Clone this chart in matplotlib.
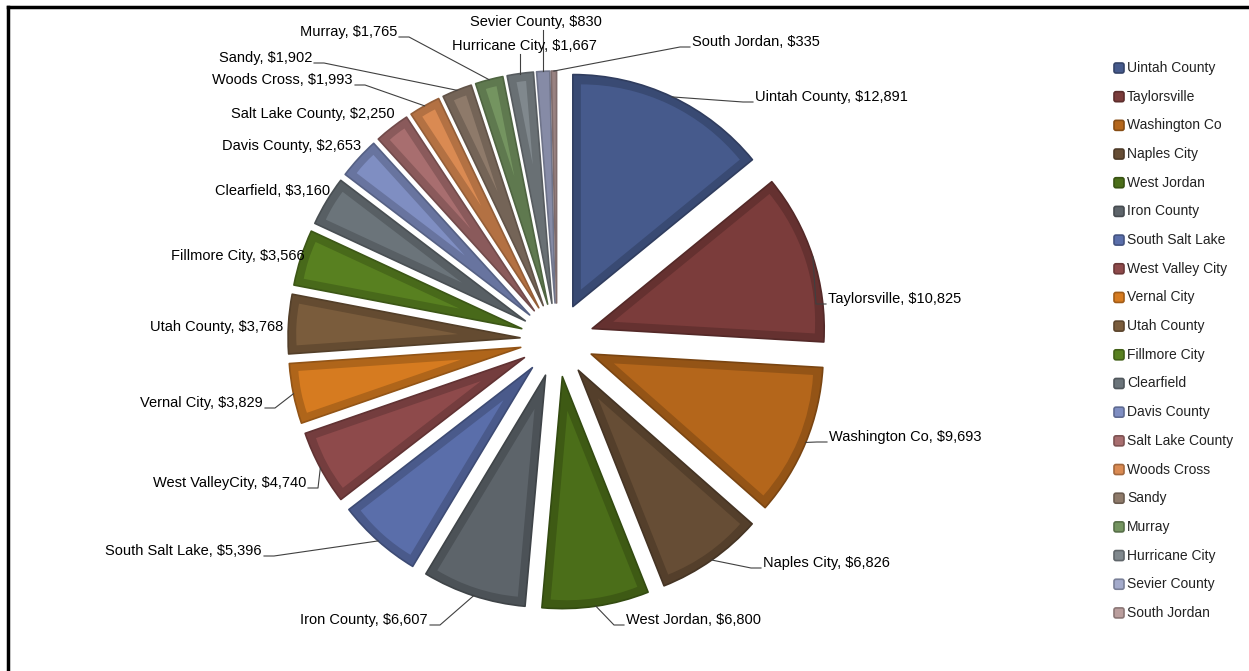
import matplotlib
matplotlib.use("Agg")
import matplotlib.pyplot as plt
from matplotlib.lines import Line2D
from matplotlib.patches import FancyBboxPatch, Wedge
import matplotlib.colors as mcolors
import numpy as np

# data
names = ['Uintah County', 'Taylorsville', 'Washington Co', 'Naples City', 'West Jordan',
         'Iron County', 'South Salt Lake', 'West Valley City', 'Vernal City', 'Utah County',
         'Fillmore City', 'Clearfield', 'Davis County', 'Salt Lake County', 'Woods Cross',
         'Sandy', 'Murray', 'Hurricane City', 'Sevier County', 'South Jordan']
label_names = list(names)
label_names[7] = 'West ValleyCity'
values = [12891, 10825, 9693, 6826, 6800, 6607, 5396, 4740, 3829, 3768,
          3566, 3160, 2653, 2250, 1993, 1902, 1765, 1667, 830, 335]
colors = ['#465A8C', '#7B3C3B', '#B4661B', '#664D35', '#4B6E19',
          '#5D646A', '#5A6EAA', '#8E4A4B', '#D67B20', '#7A5C3C',
          '#588020', '#6B747A', '#7F8EC2', '#A86E6F', '#DA8A52',
          '#8E7A6A', '#749460', '#80888D', '#A3AACB', '#BA9E9D']

# label layout, pixel coords (y from top): x, y, alignment
label_pos = [(755, 97, 'left'), (828, 299, 'left'), (829, 437, 'left'), (763, 563, 'left'),
             (626, 620, 'left'), (428, 620, 'right'), (262, 551, 'right'), (306, 483, 'right'),
             (263, 403, 'right'), (283, 327, 'right'), (305, 256, 'right'), (330, 191, 'right'),
             (361, 146, 'right'), (395, 114, 'right'), (353, 80, 'right'), (312, 58, 'right'),
             (397, 32, 'right'), (524, 46, 'center'), (536, 22, 'center'), (692, 42, 'left')]

W, H = 1249, 671
cx, cy, R, gap = 557, 340, 232, 37
band = 8

fig = plt.figure(figsize=(W / 100, H / 100), dpi=100)
ax = fig.add_axes([0, 0, 1, 1])

wedges, _ = ax.pie(values, explode=[gap] * len(values), startangle=90, counterclock=False,
                   radius=R, center=(cx, H - cy), colors=colors)

# darker band + lighter inset (Excel-like bevel)
for w, c in zip(wedges, colors):
    base = np.array(mcolors.to_rgb(c))
    w.set_facecolor(base * 0.82)
    w.set_edgecolor(base * 0.68)
    w.set_linewidth(1.2)
    w.set_joinstyle('round')
    half = np.deg2rad(w.theta2 - w.theta1) / 2
    mid = np.deg2rad((w.theta1 + w.theta2) / 2)
    s = band / np.sin(half)
    r_in = w.r - band - s
    if r_in > 4:
        ic = (w.center[0] + s * np.cos(mid), w.center[1] + s * np.sin(mid))
        ax.add_patch(Wedge(ic, r_in, w.theta1, w.theta2, facecolor=base,
                           edgecolor='none', zorder=w.get_zorder() + 0.1))

# labels and leader lines
for w, name, v, (lx, ly, ha) in zip(wedges, label_names, values, label_pos):
    mid = np.deg2rad((w.theta1 + w.theta2) / 2)
    px = w.center[0] + w.r * np.cos(mid)
    py = w.center[1] + w.r * np.sin(mid)
    ty = H - ly
    ax.text(lx, ty, f"{name}, ${v:,}", ha=ha, va='center', fontsize=10.5,
            family=['Liberation Sans', 'DejaVu Sans'], color='black')
    if ha == 'center':
        ex, ey = px, ty - 8
    else:
        ex, ey = lx + (-2 if ha == 'left' else 2), ty - 5
    if np.hypot(ex - px, ey - py) > 14:
        if ha == 'center':
            ax.plot([px, ex], [py, ey], color='#404040', lw=0.8)
        else:
            hx = lx + (-12 if ha == 'left' else 12)
            ax.plot([px, hx, ex], [py, ey, ey], color='#404040', lw=0.8)

# legend
for i, (name, c) in enumerate(zip(names, colors)):
    y = H - (68 + i * 28.68)
    dark = np.array(mcolors.to_rgb(c)) * 0.75
    ax.add_patch(FancyBboxPatch((1114, y - 5), 10, 10, boxstyle='round,pad=0,rounding_size=2',
                                facecolor=c, edgecolor=dark, linewidth=1.2))
    ax.text(1127, y, name, ha='left', va='center', fontsize=10,
            family=['Liberation Sans', 'DejaVu Sans'], color='#222222')

ax.set_xlim(0, W)
ax.set_ylim(0, H)
ax.set_aspect('equal')
ax.axis('off')

# chart border (top and left visible)
fig.add_artist(Line2D([8 / W, 1], [1 - 7 / H, 1 - 7 / H], color='black', lw=2.5))
fig.add_artist(Line2D([8 / W, 8 / W], [0, 1 - 7 / H], color='black', lw=2.5))

fig.savefig('out.png', dpi=100, facecolor='white')
